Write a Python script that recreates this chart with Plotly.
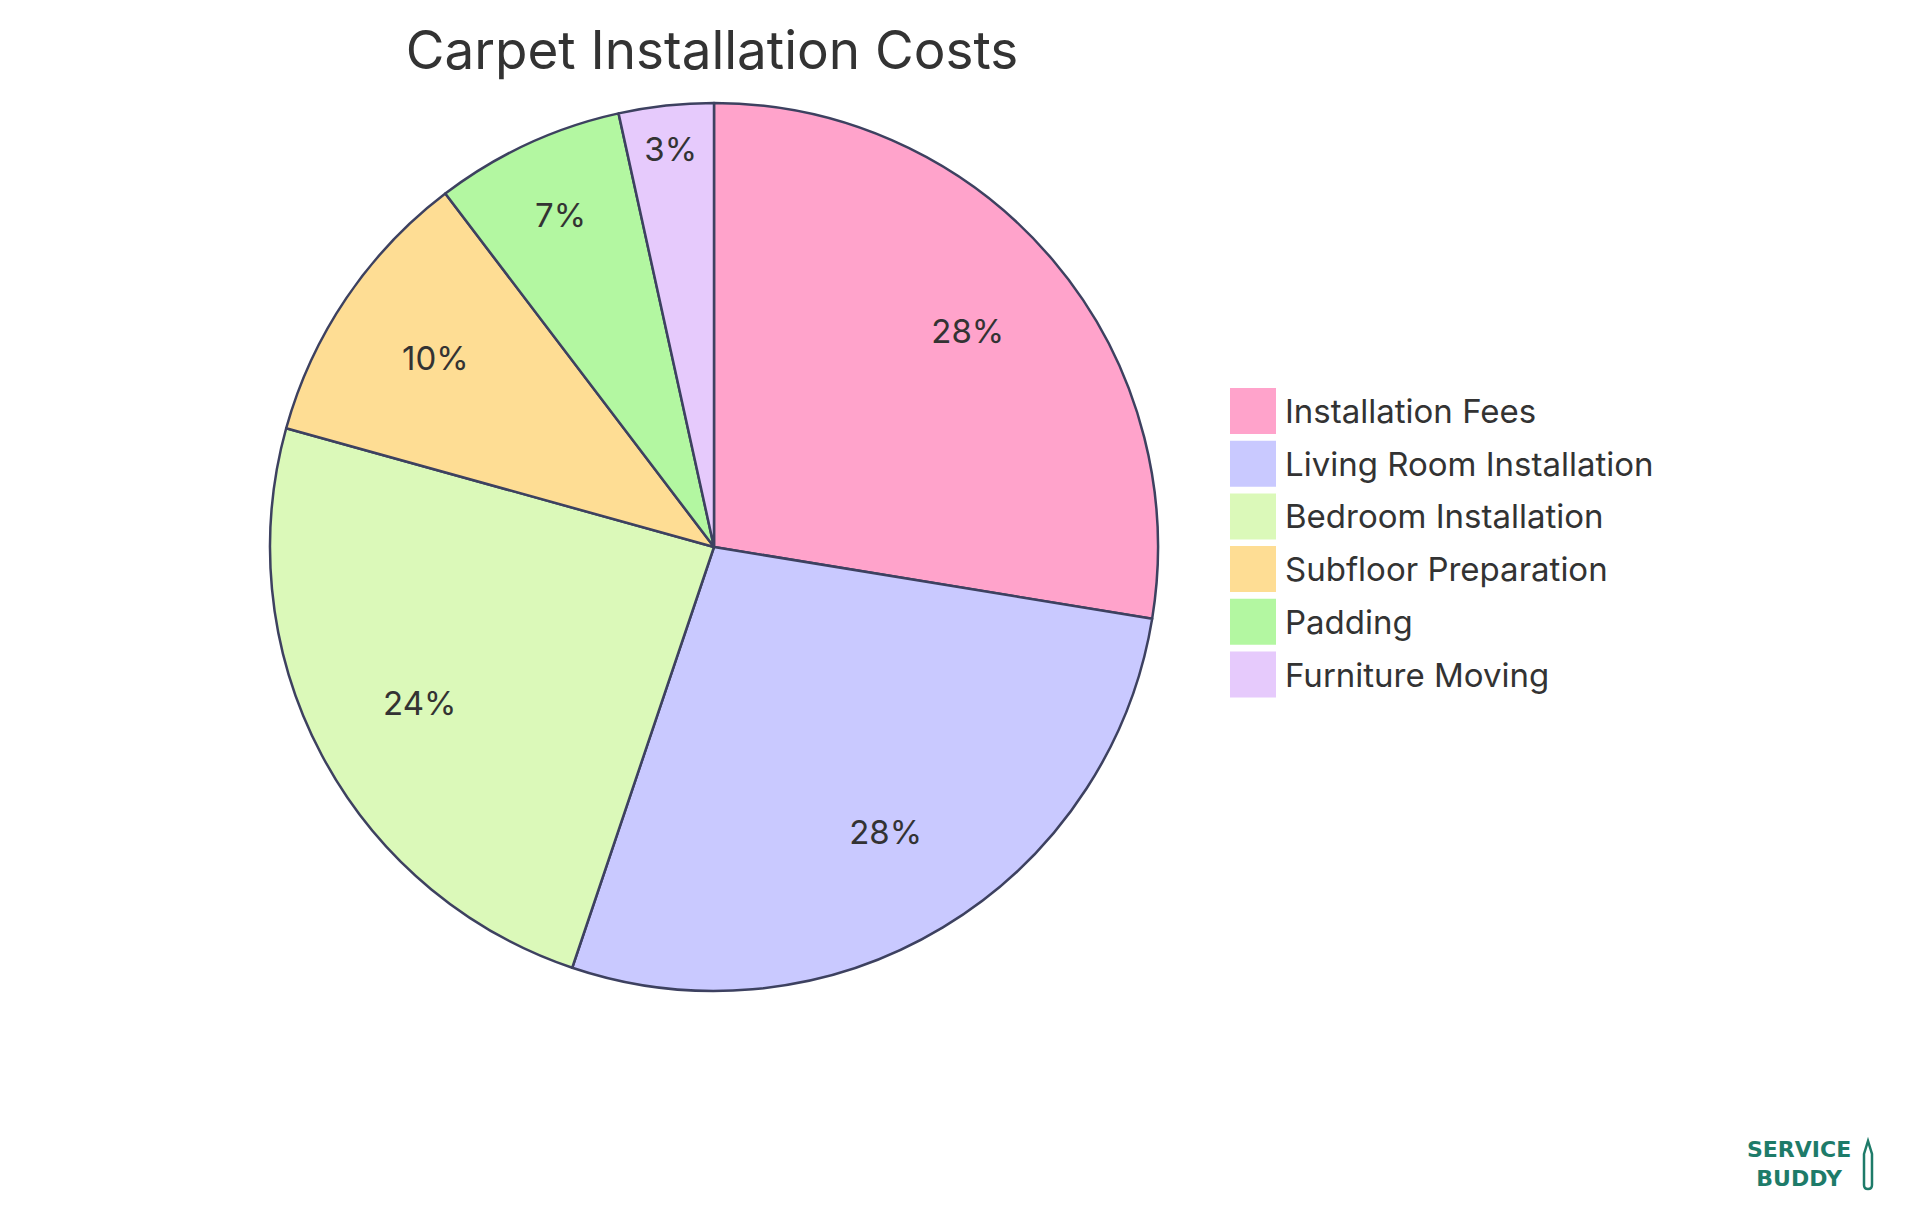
import plotly.graph_objects as go

### DATA ###
labels = ["Installation Fees", "Living Room Installation", "Bedroom Installation",
          "Subfloor Preparation", "Padding", "Furniture Moving"]
costs = [800, 800, 700, 300, 200, 100]
colors = ["#FFA3CB", "#C9C9FF", "#DBF9B9", "#FEDD94", "#B3F7A1", "#E6CAFC"]

FONT = "Inter"
TEXT_COLOR = "#333333"
W, H = 1920, 1215

# pie geometry in pixels
CX, CY, R = 706, 539, 444
pie_domain = dict(x=[(CX - R) / W, (CX + R) / W], y=[1 - (CY + R) / H, 1 - (CY - R) / H])

fig = go.Figure()
# slices
fig.add_trace(go.Pie(
    labels=labels, values=costs, sort=False, direction="clockwise", rotation=0,
    marker=dict(colors=colors, line=dict(color="#3D4160", width=2.5)),
    textinfo="none", domain=pie_domain, showlegend=False,
    hoverinfo="label+value+percent",
))
# percentage labels only: a see-through ring so the text sits ~3/4 of the way out
fig.add_trace(go.Pie(
    labels=labels, values=costs, sort=False, direction="clockwise", rotation=0, hole=0.5,
    marker=dict(colors=["rgba(0,0,0,0)"] * len(labels), line=dict(width=0)),
    texttemplate="%{percent:.0%}", textposition="inside", insidetextorientation="horizontal",
    textfont=dict(family=FONT, size=33, color=TEXT_COLOR),
    domain=pie_domain, showlegend=False, hoverinfo="skip",
))

# legend drawn by hand so the colour squares can be as big as the reference's
shapes = []
annotations = []
box = 46
top = 380
step = 52.7
for i, (lab, col) in enumerate(zip(labels, colors)):
    y0 = top + i * step
    shapes.append(dict(type="rect", xref="paper", yref="paper",
                       x0=1222 / W, x1=(1222 + box) / W,
                       y0=1 - (y0 + box) / H, y1=1 - y0 / H,
                       fillcolor=col, line=dict(width=0)))
    annotations.append(dict(text=lab, xref="paper", yref="paper",
                            x=1275 / W, y=1 - (y0 + box / 2) / H,
                            xanchor="left", yanchor="middle", showarrow=False,
                            font=dict(family=FONT, size=33, color=TEXT_COLOR)))

# brand mark, bottom right
LOGO = "#1E7B69"
annotations.append(dict(text="<b>SERVICE<br>BUDDY</b>", xref="paper", yref="paper",
                        x=1791 / W, y=1 - 1156 / H, xanchor="center", yanchor="middle",
                        showarrow=False, align="center",
                        font=dict(family="DejaVu Sans", size=22, color=LOGO)))
# little pencil next to it
def px(x, y):
    return f"{x / W:.5f},{1 - y / H:.5f}"
pencil = ("M " + px(1856, 1146) + " L " + px(1860, 1133) + " L " + px(1864, 1146)
          + " L " + px(1864, 1177) + " Q " + px(1864, 1181) + " " + px(1860, 1181)
          + " Q " + px(1856, 1181) + " " + px(1856, 1177) + " Z")
shapes.append(dict(type="path", xref="paper", yref="paper", path=pencil,
                   line=dict(color=LOGO, width=2.5), fillcolor="rgba(0,0,0,0)"))

fig.update_layout(
    width=W, height=H,
    title=dict(text="Carpet Installation Costs", x=704 / W, xanchor="center",
               y=1 - 42 / H, yanchor="middle", yref="container",
               font=dict(family=FONT, size=53, color=TEXT_COLOR)),
    margin=dict(l=0, r=0, t=0, b=0),
    paper_bgcolor="white", plot_bgcolor="white",
    shapes=shapes, annotations=annotations,
    font=dict(family=FONT, color=TEXT_COLOR),
)

fig.write_html("out.html")
